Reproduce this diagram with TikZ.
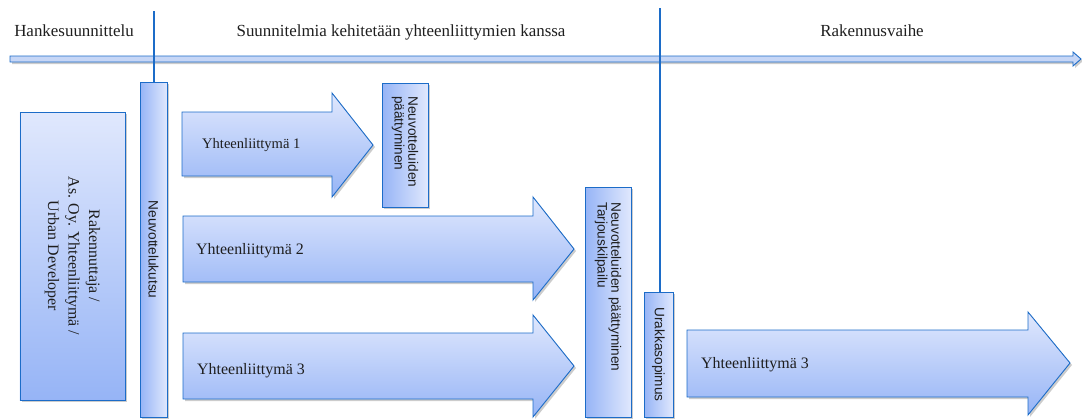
\documentclass[tikz,border=0pt]{standalone}
\usepackage{fontspec}
\setmainfont{Liberation Serif}
\setsansfont{Liberation Sans}
\usetikzlibrary{shadows}

\definecolor{edge}{RGB}{28,108,200}
\definecolor{lite}{RGB}{224,232,253}
\definecolor{deep}{RGB}{150,180,246}
\definecolor{barfill}{RGB}{198,214,246}
\definecolor{ink}{RGB}{30,30,30}

\begin{document}
\begin{tikzpicture}[x=1bp,y=-1bp,
  shadowed/.style={drop shadow={shadow xshift=2bp,shadow yshift=-2bp,fill=black!20,opacity=1}},
  vshade/.style={shadowed,draw=edge,line width=0.9bp,top color=lite,bottom color=deep},
  hshade/.style={shadowed,draw=edge,line width=0.9bp,left color=deep,right color=lite},
  boxnode/.style={hshade,inner sep=0pt,rectangle},
  phase/.style={font=\fontsize{17}{20}\selectfont,text=ink,anchor=base,inner sep=0pt},
  flowlabel/.style={font=\fontsize{16}{19}\selectfont,text=ink,anchor=west,inner sep=0pt},
  sidelabel/.style={font=\sffamily\fontsize{13.7}{14}\selectfont,text=ink,rotate=-90,inner sep=0pt,align=left},
  milestone/.style={draw=edge,line width=1.6bp}
]
\useasboundingbox (0,0) rectangle (1082,419);

% phase headings
\node[phase] (ph1) at (74,36) {Hankesuunnittelu};
\node[phase] (ph2) at (401,36) {Suunnitelmia kehitetään yhteenliittymien kanssa};
\node[phase] (ph3) at (872,36) {Rakennusvaihe};

% time axis
\path[shadowed,draw=edge,line width=0.9bp,fill=barfill]
  (10,56) -- (1073,56) -- (1073,52) -- (1081,59) -- (1073,66) -- (1073,62) -- (10,62) -- cycle;

% client box
\node[vshade,rectangle,minimum width=105bp,minimum height=288bp,inner sep=0pt] (owner) at (72.5,256) {};
\node[font=\fontsize{16}{20.5}\selectfont,text=ink,rotate=-90,align=center,inner sep=0pt] (ownertxt) at (owner.center)
  {Rakennuttaja /\\As. Oy. Yhteenliittymä /\\Urban Developer};

% vertical step boxes
\node[boxnode,minimum width=27bp,minimum height=335bp] (kutsu) at (153.5,249.5) {};
\node[sidelabel] (kutsutxt) at (kutsu.center) {Neuvottelukutsu};

\node[boxnode,minimum width=46bp,minimum height=124bp] (paatos) at (405,145) {};
\node[sidelabel,anchor=west] (paatostxt) at (405,96) {Neuvotteluiden\\päättyminen};

\node[boxnode,minimum width=46bp,minimum height=230bp] (tarjous) at (608,302) {};
\node[sidelabel,anchor=west] (tarjoustxt) at (608,202) {Neuvotteluiden päättyminen\\Tarjouskilpailu};

\node[boxnode,minimum width=29bp,minimum height=125bp] (urakka) at (658.5,354.5) {};
\node[sidelabel] (urakkatxt) at (urakka.center) {Urakkasopimus};

% block arrows
\path[vshade] (182,112) -- (332,112) -- (332,93) -- (373,145) -- (332,197) -- (332,176) -- (182,176) -- cycle;
\node[flowlabel,font=\fontsize{14.6}{17}\selectfont] (y1) at (202,145) {Yhteenliittymä 1};

\path[vshade] (183,216) -- (533,216) -- (533,197) -- (574,249) -- (533,300) -- (533,282) -- (183,282) -- cycle;
\node[flowlabel] (y2) at (196,251) {Yhteenliittymä 2};

\path[vshade] (183,333) -- (533,333) -- (533,315) -- (574,366) -- (533,417) -- (533,399) -- (183,399) -- cycle;
\node[flowlabel] (y3) at (197,371) {Yhteenliittymä 3};

\path[vshade] (687,330) -- (1028,330) -- (1028,312) -- (1070,363) -- (1028,415) -- (1028,397) -- (687,397) -- cycle;
\node[flowlabel] (y4) at (701,365) {Yhteenliittymä 3};

% phase boundaries
\coordinate (m1) at (154,11);
\coordinate (m2) at (660,8);
\draw[milestone] (m1) -- (m1 |- kutsu.north);
\draw[milestone] (m2) -- (m2 |- urakka.north);
\end{tikzpicture}
\end{document}
